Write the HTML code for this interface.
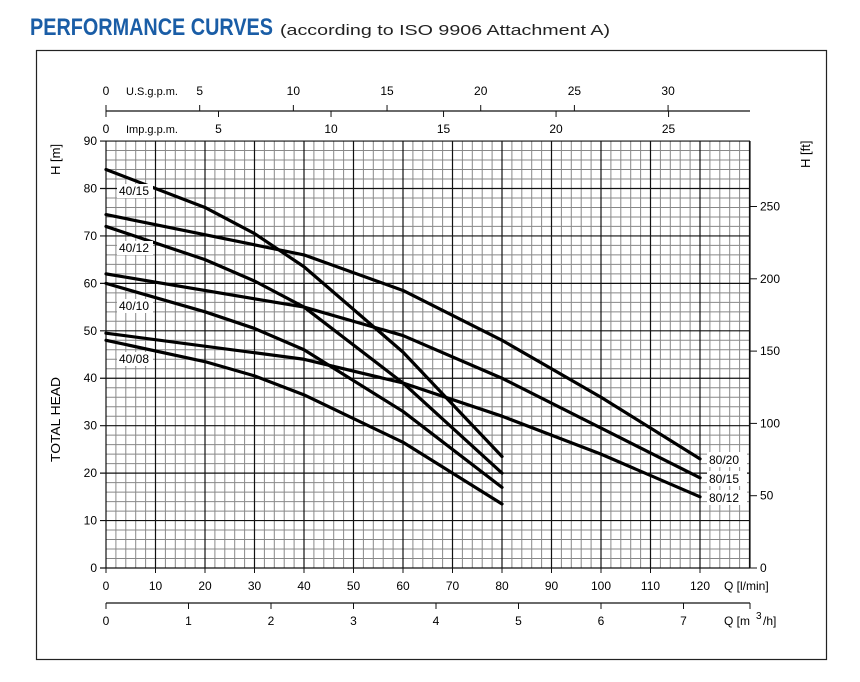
<!DOCTYPE html>
<html><head><meta charset="utf-8"><style>
html,body{margin:0;padding:0;background:#fff;}
svg{display:block;font-family:"Liberation Sans",sans-serif;}
</style></head><body>
<svg id="s" width="860" height="682" viewBox="0 0 860 682" xmlns="http://www.w3.org/2000/svg">
<text x="30" y="35" font-size="24" font-weight="bold" fill="#1a5da6" textLength="243" lengthAdjust="spacingAndGlyphs">PERFORMANCE CURVES</text>
<text x="280" y="35" font-size="15" fill="#222" textLength="330" lengthAdjust="spacingAndGlyphs">(according to ISO 9906 Attachment A)</text>
<rect x="36.5" y="50.5" width="790" height="609" fill="none" stroke="#222" stroke-width="1.2"/>
<g id="grid"></g>
<g id="curves" fill="none" stroke="#000" stroke-width="3.2" stroke-linejoin="round" stroke-linecap="round"></g>
<g id="labels" font-size="12" fill="#000"></g>
<text transform="translate(60,175) rotate(-90)" font-size="13">H  [m]</text>
<text transform="translate(60,462) rotate(-90)" font-size="13" textLength="85" lengthAdjust="spacingAndGlyphs">TOTAL  HEAD</text>
<text transform="translate(810,168) rotate(-90)" font-size="13">H  [ft]</text>
</svg>
<script>
var NS="http://www.w3.org/2000/svg";
function el(p,t,a,txt){var e=document.createElementNS(NS,t);for(var k in a)e.setAttribute(k,a[k]);if(txt!==undefined)e.textContent=txt;document.getElementById(p).appendChild(e);return e;}
var X0=106,XS=4.95,Y0=568,YS=4.744,XR=750,YT=141;
function X(q){return X0+q*XS;} function Y(h){return Y0-h*YS;}
// minor grid
for(var q=0;q<=130;q+=2){var x=X(q);if(q%10) el("grid","line",{x1:x,x2:x,y1:YT,y2:Y0,stroke:"#888","stroke-width":1});}
for(var h=0;h<=90;h+=2){var y=Y(h);if(h%10) el("grid","line",{x1:X0,x2:XR,y1:y,y2:y,stroke:"#888","stroke-width":1});}
for(var q=0;q<=130;q+=10){var x=X(q);el("grid","line",{x1:x,x2:x,y1:YT,y2:Y0,stroke:"#111","stroke-width":1.2});
 if(q<=120){el("grid","line",{x1:x,x2:x,y1:Y0,y2:Y0+5,stroke:"#111"});el("grid","text",{x:x,y:Y0+22,"font-size":12,"text-anchor":"middle"},q);}}
for(var h=0;h<=90;h+=10){var y=Y(h);el("grid","line",{x1:X0-6,x2:XR,y1:y,y2:y,stroke:"#111","stroke-width":1.2});
 el("grid","text",{x:X0-9,y:y+4,"font-size":12,"text-anchor":"end"},h);}
// right ft axis
el("grid","line",{x1:XR,x2:XR,y1:YT,y2:Y0,stroke:"#111","stroke-width":1.2});
for(var f=0;f<=250;f+=50){var y=Y(f*0.3048);el("grid","line",{x1:XR,x2:XR+7,y1:y,y2:y,stroke:"#111"});el("grid","text",{x:XR+10,y:y+4,"font-size":12},f);}
el("grid","text",{x:724,y:Y0+22,"font-size":12},"Q [l/min]");
// top axis
var TY=111;el("grid","line",{x1:X0,x2:XR,y1:TY,y2:TY,stroke:"#111","stroke-width":1.2});
for(var g=0;g<=30;g+=5){var x=X(g*3.785);el("grid","line",{x1:x,x2:x,y1:TY-6,y2:TY,stroke:"#111"});el("grid","text",{x:x,y:95,"font-size":12,"text-anchor":"middle"},g);}
for(var g=0;g<=25;g+=5){var x=X(g*4.546);el("grid","line",{x1:x,x2:x,y1:TY,y2:TY+6,stroke:"#111"});el("grid","text",{x:x,y:133,"font-size":12,"text-anchor":"middle"},g);}
el("grid","text",{x:126,y:95,"font-size":11},"U.S.g.p.m.");
el("grid","text",{x:126,y:133,"font-size":11},"Imp.g.p.m.");
// bottom m3/h
var BY=603;el("grid","line",{x1:X0,x2:XR,y1:BY,y2:BY,stroke:"#111","stroke-width":1.2});
for(var m=0;m<=7;m++){var x=X(m*16.667);el("grid","line",{x1:x,x2:x,y1:BY,y2:BY+6,stroke:"#111"});el("grid","text",{x:x,y:BY+22,"font-size":12,"text-anchor":"middle"},m);}
el("grid","line",{x1:XR,x2:XR,y1:BY,y2:BY+6,stroke:"#111"});
el("grid","text",{x:724,y:BY+22,"font-size":12},"Q [m");
el("grid","text",{x:756,y:BY+16,"font-size":10},"3");
el("grid","text",{x:763,y:BY+22,"font-size":12},"/h]");
// curves
var C=[
[[0,84],[20,76],[30,70.5],[40,63.5],[60,45.5],[80,23.5]],
[[0,72],[20,65],[30,60.5],[40,55],[60,39],[80,20]],
[[0,60],[20,54],[30,50.5],[40,46],[60,33],[80,17]],
[[0,48],[20,43.5],[30,40.5],[40,36.5],[60,26.5],[80,13.5]],
[[0,74.5],[40,66],[60,58.5],[80,48],[100,36],[120,23]],
[[0,62],[40,55],[60,49],[80,40],[100,29.5],[120,19]],
[[0,49.5],[40,44],[60,39],[80,32],[100,24],[120,15]]];
C.forEach(function(c){el("curves","polyline",{points:c.map(function(p){return X(p[0])+","+Y(p[1]);}).join(" ")});});
// labels
[["40/15",195],["40/12",252],["40/10",310],["40/08",363]].forEach(function(l){el("labels","rect",{x:117,y:l[1]-11,width:36,height:14,fill:"#fff"});el("labels","text",{x:119,y:l[1]},l[0]);});
[["80/20",464],["80/15",483],["80/12",502]].forEach(function(l){el("labels","rect",{x:707,y:l[1]-12,width:40,height:15,fill:"#fff"});el("labels","text",{x:709,y:l[1]},l[0]);});
</script>
</body></html>
